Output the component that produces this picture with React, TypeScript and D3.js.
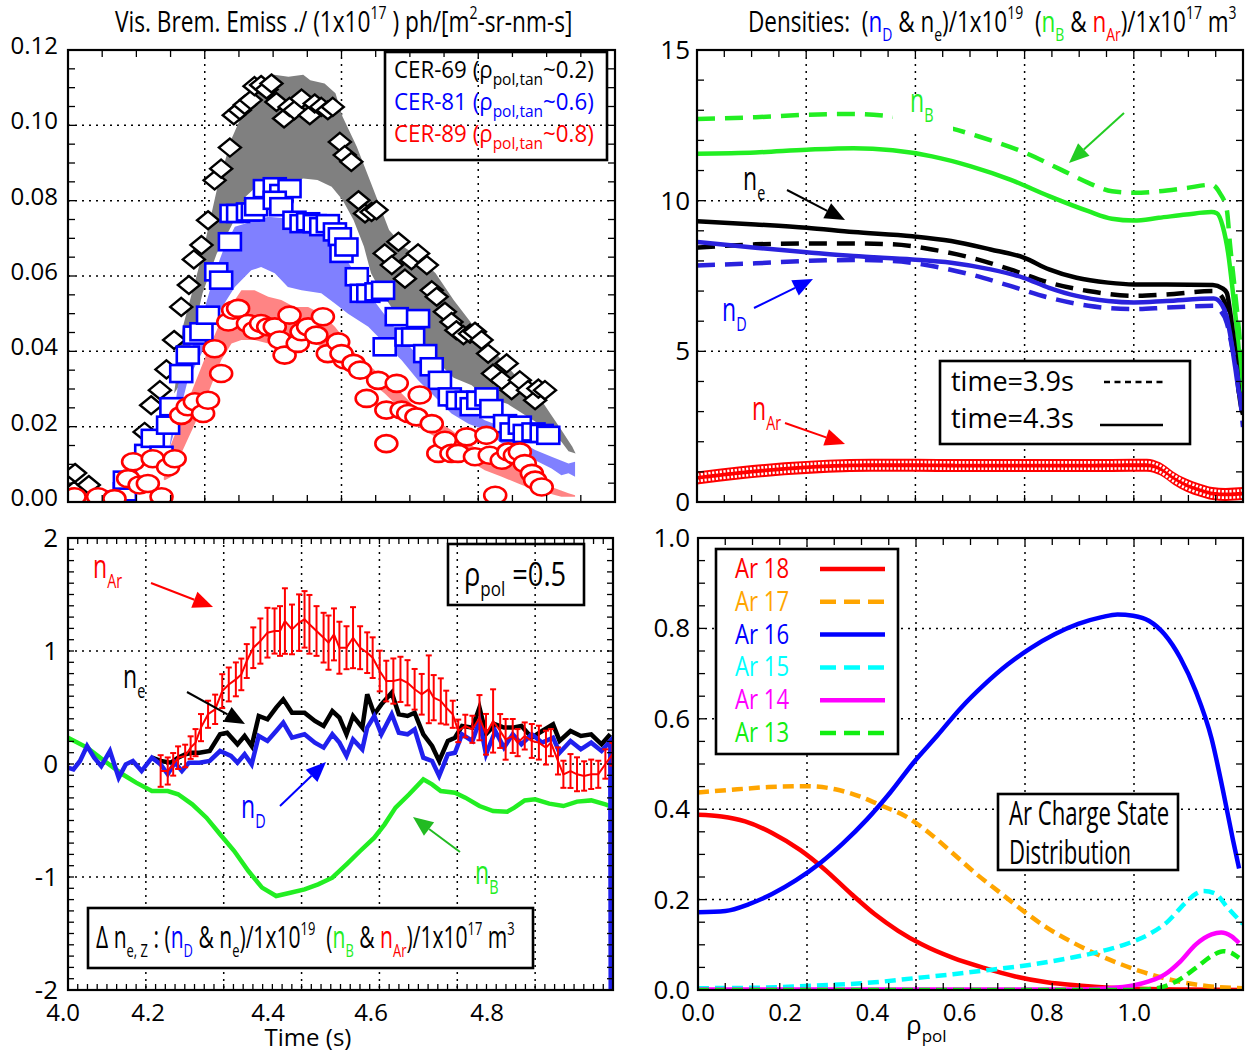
import React from "react";
import * as d3 from "d3";

type P = [number, number];
type E = [number, number, number];

// ================= TOP-LEFT : Vis. Brem. emissivity vs time =================
const cer69Points: P[] = [
  [4.011, 0.003], [4.013, 0.0077], [4.038, 0.0045], [4.14, 0.0186], [4.152, 0.0257], [4.168, 0.0297],
  [4.18, 0.0352], [4.194, 0.043], [4.207, 0.0518], [4.221, 0.0576], [4.23, 0.0644], [4.244, 0.0682],
  [4.256, 0.0748], [4.268, 0.0854], [4.28, 0.0885], [4.296, 0.0941], [4.303, 0.1027], [4.314, 0.104],
  [4.323, 0.1054], [4.334, 0.1067], [4.341, 0.1104], [4.353, 0.1107], [4.363, 0.1095], [4.372, 0.1111],
  [4.381, 0.1062], [4.395, 0.1018], [4.405, 0.1049], [4.414, 0.104], [4.427, 0.1071], [4.442, 0.1027],
  [4.451, 0.1058], [4.463, 0.1049], [4.475, 0.104], [4.484, 0.1049], [4.497, 0.0956], [4.506, 0.0921],
  [4.518, 0.0903], [4.531, 0.0801], [4.543, 0.0766], [4.555, 0.077], [4.564, 0.0775], [4.579, 0.066],
  [4.592, 0.0629], [4.604, 0.0691], [4.616, 0.0593], [4.628, 0.0642], [4.64, 0.066], [4.656, 0.0629],
  [4.665, 0.0562], [4.674, 0.0545], [4.689, 0.0505], [4.701, 0.0478], [4.71, 0.0456], [4.723, 0.0443],
  [4.735, 0.0447], [4.744, 0.0452], [4.756, 0.043], [4.768, 0.0394], [4.777, 0.0341], [4.793, 0.0323],
  [4.802, 0.0368], [4.811, 0.0297], [4.826, 0.0323], [4.841, 0.0297], [4.854, 0.027], [4.86, 0.0301],
  [4.872, 0.0297],
];
const cer81Points: P[] = [
  [4.061, 0.0005], [4.104, 0.0027], [4.104, 0.0058], [4.143, 0.0129], [4.155, 0.0169], [4.171, 0.0124],
  [4.183, 0.0204], [4.189, 0.0253], [4.207, 0.0341], [4.219, 0.039], [4.232, 0.0443], [4.244, 0.0452],
  [4.256, 0.0496], [4.271, 0.0611], [4.28, 0.0589], [4.296, 0.0691], [4.299, 0.0766], [4.311, 0.0766],
  [4.329, 0.077], [4.338, 0.077], [4.344, 0.0784], [4.36, 0.0832], [4.378, 0.0837], [4.39, 0.0819],
  [4.405, 0.0832], [4.378, 0.0801], [4.39, 0.0784], [4.414, 0.0748], [4.427, 0.0739], [4.439, 0.0744],
  [4.451, 0.0739], [4.463, 0.0731], [4.475, 0.0739], [4.488, 0.0717], [4.497, 0.0704], [4.5, 0.066],
  [4.509, 0.0677], [4.528, 0.0598], [4.537, 0.0554], [4.549, 0.0554], [4.564, 0.0558], [4.576, 0.0562],
  [4.601, 0.0492], [4.64, 0.0487], [4.579, 0.0412], [4.619, 0.0438], [4.631, 0.0438], [4.653, 0.0394],
  [4.665, 0.0359], [4.68, 0.0323], [4.698, 0.0279], [4.713, 0.027], [4.729, 0.027], [4.738, 0.0253],
  [4.75, 0.027], [4.765, 0.0279], [4.774, 0.0248], [4.799, 0.0208], [4.811, 0.0186], [4.826, 0.0204],
  [4.835, 0.0182], [4.851, 0.0186], [4.866, 0.0182], [4.878, 0.0177],
];
const cer89Points: P[] = [
  [4.012, 0.0014], [4.055, 0.0014], [4.085, 0.0009], [4.171, 0.0014], [4.11, 0.0062], [4.119, 0.0107],
  [4.131, 0.0045], [4.146, 0.0049], [4.155, 0.0115], [4.183, 0.0093], [4.195, 0.0115], [4.207, 0.023],
  [4.219, 0.0253], [4.232, 0.0266], [4.247, 0.0235], [4.256, 0.027], [4.28, 0.0341], [4.268, 0.0407],
  [4.293, 0.0478], [4.302, 0.0509], [4.311, 0.0514], [4.329, 0.0474], [4.341, 0.0456], [4.353, 0.0474],
  [4.366, 0.0465], [4.378, 0.0465], [4.387, 0.043], [4.396, 0.039], [4.405, 0.0496], [4.42, 0.0421],
  [4.427, 0.0452], [4.439, 0.0465], [4.454, 0.0443], [4.466, 0.0492], [4.475, 0.0394], [4.494, 0.0425],
  [4.506, 0.0377], [4.5, 0.0394], [4.522, 0.0368], [4.534, 0.035], [4.546, 0.0275], [4.567, 0.0323],
  [4.582, 0.0244], [4.601, 0.0315], [4.61, 0.0244], [4.622, 0.0235], [4.643, 0.0284], [4.637, 0.0226],
  [4.665, 0.0208], [4.582, 0.0155], [4.677, 0.0129], [4.689, 0.0164], [4.701, 0.0129], [4.713, 0.0129],
  [4.729, 0.0173], [4.744, 0.012], [4.765, 0.0177], [4.771, 0.0124], [4.781, 0.0018], [4.793, 0.0111],
  [4.805, 0.0133], [4.817, 0.0124], [4.826, 0.0133], [4.835, 0.0102], [4.848, 0.0076], [4.854, 0.0058],
  [4.866, 0.004],
];
const cer69BandUpper: P[] = [
  [4.194, 0.0288], [4.21, 0.0465], [4.246, 0.066], [4.272, 0.0828], [4.298, 0.0961], [4.325, 0.105],
  [4.351, 0.1111], [4.377, 0.1134], [4.403, 0.1129], [4.43, 0.1134], [4.443, 0.112], [4.469, 0.1111],
  [4.489, 0.1085], [4.502, 0.1023], [4.528, 0.0943], [4.554, 0.0846], [4.587, 0.0722], [4.613, 0.0678],
  [4.64, 0.0651], [4.672, 0.0607], [4.705, 0.0536], [4.738, 0.0474], [4.771, 0.0412], [4.804, 0.0359],
  [4.836, 0.0306], [4.869, 0.0262], [4.902, 0.0191], [4.922, 0.0147], [4.928, 0.0129],
];
const cer69BandLower: P[] = [
  [4.194, 0.0288], [4.21, 0.0324], [4.226, 0.043], [4.246, 0.0554], [4.272, 0.066], [4.298, 0.0731],
  [4.325, 0.0811], [4.351, 0.0846], [4.377, 0.0837], [4.403, 0.0846], [4.43, 0.0859], [4.456, 0.0855],
  [4.482, 0.0837], [4.502, 0.0802], [4.522, 0.0749], [4.541, 0.0678], [4.554, 0.0607], [4.574, 0.0554],
  [4.607, 0.0483], [4.64, 0.043], [4.672, 0.0377], [4.705, 0.033], [4.738, 0.031], [4.762, 0.028],
  [4.804, 0.026], [4.836, 0.023], [4.869, 0.02], [4.902, 0.016], [4.915, 0.0135], [4.928, 0.0129],
];
const cer81BandUpper: P[] = [
  [4.185, 0.014], [4.201, 0.031], [4.219, 0.0376], [4.244, 0.0483], [4.268, 0.0607], [4.286, 0.0677],
  [4.305, 0.0731], [4.335, 0.0744], [4.366, 0.0757], [4.396, 0.0753], [4.427, 0.0731], [4.457, 0.0722],
  [4.488, 0.069], [4.549, 0.0554], [4.61, 0.0438], [4.646, 0.0376], [4.671, 0.0323], [4.701, 0.0279],
  [4.732, 0.0244], [4.762, 0.0217], [4.793, 0.02], [4.823, 0.0164], [4.854, 0.0138], [4.884, 0.012],
  [4.915, 0.0102], [4.927, 0.0107],
];
const cer81BandLower: P[] = [
  [4.185, 0.014], [4.201, 0.022], [4.219, 0.0323], [4.244, 0.0394], [4.274, 0.05], [4.305, 0.0571],
  [4.335, 0.0615], [4.353, 0.0624], [4.378, 0.0607], [4.402, 0.0571], [4.427, 0.0562], [4.463, 0.0554],
  [4.488, 0.0527], [4.512, 0.05], [4.549, 0.0465], [4.579, 0.0421], [4.61, 0.0376], [4.64, 0.0323],
  [4.671, 0.0279], [4.701, 0.0235], [4.732, 0.0208], [4.762, 0.0191], [4.793, 0.0155], [4.823, 0.0129],
  [4.854, 0.0111], [4.884, 0.0089], [4.902, 0.0071], [4.915, 0.0076], [4.927, 0.0067],
];
const cer89BandUpper: P[] = [
  [4.175, 0.006], [4.177, 0.0111], [4.201, 0.02], [4.232, 0.0315], [4.256, 0.0403], [4.28, 0.0483],
  [4.305, 0.0536], [4.317, 0.0562], [4.341, 0.0562], [4.366, 0.0545], [4.39, 0.0536], [4.414, 0.0518],
  [4.439, 0.0518], [4.463, 0.05], [4.488, 0.0465], [4.512, 0.0421], [4.525, 0.0394], [4.561, 0.035],
  [4.598, 0.0306], [4.634, 0.0253], [4.671, 0.0217], [4.701, 0.0191], [4.732, 0.0155], [4.762, 0.0129],
  [4.793, 0.0111], [4.823, 0.0093], [4.854, 0.0067], [4.884, 0.004], [4.915, 0.0023], [4.927, 0.0018],
];
const cer89BandLower: P[] = [
  [4.175, 0.006], [4.177, 0.0058], [4.189, 0.0067], [4.207, 0.0129], [4.232, 0.0208], [4.256, 0.0288],
  [4.28, 0.0376], [4.299, 0.0421], [4.317, 0.043], [4.341, 0.043], [4.366, 0.0421], [4.39, 0.0412],
  [4.414, 0.0438], [4.439, 0.043], [4.463, 0.0412], [4.488, 0.0385], [4.518, 0.0359], [4.549, 0.0323],
  [4.579, 0.0288], [4.61, 0.0244], [4.64, 0.02], [4.671, 0.0173], [4.701, 0.0138], [4.732, 0.0111],
  [4.762, 0.0084], [4.793, 0.0067], [4.823, 0.0049], [4.854, 0.0031], [4.878, 0.0023], [4.902, 0.0014],
  [4.927, 0.0014],
];
const emissYTicks = [0, 0.02, 0.04, 0.06, 0.08, 0.1, 0.12];
const cerNames = ["CER-69", "CER-81", "CER-89"];
const cerRho = ["~0.2)", "~0.6)", "~0.8)"];

// ================= TOP-RIGHT : density profiles vs rho_pol =================
const nB39: P[] = [
  [0, 12.71], [0.134, 12.77], [0.251, 12.85], [0.358, 12.88], [0.448, 12.79], [0.582, 12.4], [0.645, 12.13],
  [0.753, 11.58], [0.833, 11.03], [0.896, 10.59], [0.95, 10.31], [1.0, 10.26], [1.057, 10.31], [1.12, 10.42],
  [1.178, 10.53], [1.197, 10.25], [1.213, 9.69], [1.22, 8.59], [1.232, 6.94], [1.243, 5.28], [1.25, 3.62],
];
const nB43: P[] = [
  [0, 11.56], [0.134, 11.6], [0.251, 11.69], [0.358, 11.74], [0.448, 11.67], [0.538, 11.47], [0.627, 11.14],
  [0.717, 10.7], [0.806, 10.15], [0.896, 9.65], [0.95, 9.4], [1.0, 9.34], [1.057, 9.43], [1.12, 9.54],
  [1.178, 9.62], [1.19, 9.58], [1.204, 9.13], [1.216, 8.26], [1.227, 6.94], [1.239, 5.28], [1.248, 3.62],
];
const ne43: P[] = [
  [0, 9.32], [0.134, 9.21], [0.251, 9.1], [0.358, 8.96], [0.493, 8.82], [0.582, 8.66], [0.672, 8.38],
  [0.748, 8.11], [0.806, 7.72], [0.869, 7.44], [0.941, 7.28], [1.0, 7.22], [1.075, 7.22], [1.181, 7.2],
  [1.202, 7.1], [1.213, 6.94], [1.22, 6.37], [1.227, 5.61], [1.236, 4.48], [1.241, 3.62], [1.25, 2.9],
];
const ne39: P[] = [
  [0, 8.44], [0.134, 8.55], [0.251, 8.58], [0.358, 8.58], [0.448, 8.55], [0.538, 8.38], [0.627, 8.11],
  [0.717, 7.72], [0.806, 7.28], [0.896, 7.0], [1.0, 6.84], [1.075, 6.89], [1.183, 7.0], [1.202, 6.8],
  [1.213, 6.37], [1.22, 5.81], [1.232, 4.71], [1.241, 3.62], [1.25, 3.0],
];
const nD43: P[] = [
  [0, 8.63], [0.134, 8.44], [0.251, 8.29], [0.358, 8.16], [0.493, 8.05], [0.582, 7.94], [0.672, 7.72],
  [0.748, 7.44], [0.806, 7.11], [0.869, 6.84], [0.941, 6.67], [1.0, 6.62], [1.075, 6.67], [1.183, 6.75],
  [1.202, 6.54], [1.213, 6.14], [1.22, 5.61], [1.232, 4.48], [1.241, 3.62], [1.25, 3.29],
];
const nD39: P[] = [
  [0, 7.85], [0.134, 7.92], [0.251, 8.0], [0.358, 8.03], [0.448, 8.0], [0.538, 7.83], [0.627, 7.55],
  [0.717, 7.17], [0.806, 6.78], [0.896, 6.51], [1.0, 6.4], [1.075, 6.45], [1.183, 6.51], [1.197, 6.37],
  [1.213, 5.94], [1.225, 5.14], [1.239, 4.05], [1.247, 2.95], [1.25, 2.49],
];
const nArProfile: P[] = [
  [0, 0.8], [0.1, 0.97], [0.2, 1.1], [0.3, 1.19], [0.4, 1.22], [0.5, 1.22], [0.6, 1.21], [0.7, 1.21],
  [0.8, 1.21], [0.9, 1.21], [1.0, 1.22], [1.03, 1.22], [1.06, 1.1], [1.09, 0.8], [1.12, 0.56], [1.15, 0.4],
  [1.18, 0.28], [1.21, 0.25], [1.25, 0.28],
];
const nArHalfWidth = 0.216;
const densYTicks = [0, 5, 10, 15];
const timeLegend = ["time=3.9s", "time=4.3s"];

// ================= BOTTOM-LEFT : density changes at rho_pol = 0.5 =================
const dnB: P[] = [
  [4.0, 0.233], [4.035, 0.145], [4.067, 0.027], [4.1, -0.091], [4.125, -0.165], [4.154, -0.239], [4.183, -0.239],
  [4.202, -0.268], [4.228, -0.357], [4.254, -0.475], [4.279, -0.622], [4.305, -0.77], [4.331, -0.947],
  [4.356, -1.094], [4.382, -1.168], [4.408, -1.139], [4.434, -1.109], [4.459, -1.065], [4.485, -1.006],
  [4.511, -0.888], [4.536, -0.77], [4.562, -0.652], [4.581, -0.534], [4.601, -0.386], [4.626, -0.268],
  [4.652, -0.136], [4.668, -0.18], [4.684, -0.239], [4.71, -0.254], [4.729, -0.298], [4.755, -0.372],
  [4.78, -0.416], [4.806, -0.422], [4.819, -0.386], [4.838, -0.322], [4.857, -0.313], [4.883, -0.351],
  [4.909, -0.372], [4.934, -0.333], [4.96, -0.322], [4.986, -0.357], [5.0, -0.381],
];
const dnD: P[] = [
  [4.0, -0.032], [4.01, -0.047], [4.022, 0.027], [4.035, 0.159], [4.048, 0.056], [4.061, -0.018], [4.077, 0.115],
  [4.093, -0.121], [4.106, -0.003], [4.119, 0.027], [4.135, -0.062], [4.154, 0.056], [4.17, -0.003],
  [4.183, -0.091], [4.196, 0.012], [4.209, -0.062], [4.222, 0.012], [4.241, 0.012], [4.26, 0.027], [4.279, 0.115],
  [4.299, 0.071], [4.311, 0.012], [4.324, 0.086], [4.337, -0.003], [4.35, 0.248], [4.366, 0.204], [4.382, 0.292],
  [4.395, 0.366], [4.411, 0.233], [4.434, 0.263], [4.453, 0.189], [4.469, 0.145], [4.485, 0.263], [4.498, 0.189],
  [4.511, 0.071], [4.523, 0.218], [4.54, 0.13], [4.549, 0.322], [4.562, 0.425], [4.575, 0.263], [4.594, 0.44],
  [4.607, 0.277], [4.623, 0.263], [4.636, 0.307], [4.652, 0.056], [4.668, 0.027], [4.681, -0.106], [4.697, 0.086],
  [4.71, 0.1], [4.723, 0.263], [4.742, 0.204], [4.755, 0.381], [4.767, 0.086], [4.784, 0.292], [4.8, 0.145],
  [4.816, 0.263], [4.832, 0.174], [4.851, 0.263], [4.87, 0.189], [4.89, 0.233], [4.902, 0.1], [4.922, 0.204],
  [4.941, 0.13], [4.96, 0.189], [4.979, 0.115], [4.995, 0.204], [4.996, -2.5],
];
const dne: P[] = [
  [4.154, 0.056], [4.17, 0.027], [4.189, 0.012], [4.202, 0.056], [4.215, 0.086], [4.228, 0.1], [4.241, 0.1],
  [4.26, 0.115], [4.279, 0.263], [4.292, 0.277], [4.311, 0.174], [4.324, 0.248], [4.337, 0.159], [4.35, 0.425],
  [4.366, 0.395], [4.382, 0.499], [4.395, 0.572], [4.411, 0.454], [4.434, 0.454], [4.453, 0.381], [4.469, 0.336],
  [4.485, 0.469], [4.498, 0.41], [4.511, 0.263], [4.523, 0.425], [4.54, 0.322], [4.549, 0.617], [4.562, 0.44],
  [4.575, 0.528], [4.594, 0.631], [4.607, 0.44], [4.623, 0.425], [4.636, 0.454], [4.652, 0.263], [4.668, 0.159],
  [4.681, 0.027], [4.697, 0.204], [4.71, 0.233], [4.723, 0.336], [4.742, 0.322], [4.755, 0.499], [4.767, 0.263],
  [4.784, 0.351], [4.8, 0.322], [4.816, 0.322], [4.832, 0.336], [4.851, 0.233], [4.87, 0.292], [4.89, 0.351],
  [4.902, 0.204], [4.922, 0.292], [4.941, 0.248], [4.96, 0.263], [4.979, 0.174], [4.995, 0.263],
];
// [time, value, half error]
const dnAr: E[] = [
  [4.17, -0.062, 0.14], [4.183, -0.062, 0.12], [4.193, -0.003, 0.1], [4.202, 0.056, 0.1], [4.215, 0.071, 0.1],
  [4.225, 0.145, 0.1], [4.234, 0.189, 0.12], [4.244, 0.322, 0.12], [4.257, 0.44, 0.12], [4.27, 0.484, 0.13],
  [4.283, 0.645, 0.15], [4.295, 0.704, 0.15], [4.308, 0.749, 0.15], [4.318, 0.793, 0.14], [4.328, 0.911, 0.15],
  [4.34, 1.029, 0.18], [4.353, 1.088, 0.2], [4.366, 1.162, 0.22], [4.379, 1.177, 0.2], [4.389, 1.177, 0.22],
  [4.398, 1.265, 0.29], [4.411, 1.191, 0.22], [4.424, 1.251, 0.25], [4.434, 1.28, 0.25], [4.443, 1.236, 0.26],
  [4.456, 1.177, 0.22], [4.469, 1.118, 0.22], [4.478, 1.074, 0.24], [4.488, 1.147, 0.23], [4.498, 1.029, 0.23],
  [4.511, 1.029, 0.19], [4.523, 1.118, 0.27], [4.536, 1.029, 0.19], [4.549, 0.985, 0.18], [4.559, 0.941, 0.18],
  [4.572, 0.823, 0.18], [4.584, 0.734, 0.18], [4.597, 0.734, 0.2], [4.61, 0.749, 0.2], [4.623, 0.719, 0.2],
  [4.636, 0.661, 0.18], [4.649, 0.617, 0.18], [4.662, 0.661, 0.3], [4.671, 0.587, 0.2], [4.684, 0.558, 0.2],
  [4.694, 0.499, 0.15], [4.706, 0.44, 0.12], [4.716, 0.293, 0.1], [4.729, 0.336, 0.1], [4.742, 0.307, 0.12],
  [4.755, 0.41, 0.2], [4.767, 0.263, 0.18], [4.78, 0.381, 0.28], [4.793, 0.292, 0.15], [4.803, 0.218, 0.18],
  [4.816, 0.248, 0.15], [4.825, 0.189, 0.12], [4.838, 0.248, 0.12], [4.851, 0.204, 0.15], [4.864, 0.189, 0.15],
  [4.877, 0.145, 0.15], [4.886, 0.189, 0.12], [4.899, 0.027, 0.12], [4.909, -0.091, 0.12], [4.922, -0.062, 0.15],
  [4.934, -0.091, 0.15], [4.947, -0.106, 0.13], [4.96, -0.091, 0.13], [4.973, -0.091, 0.12], [4.986, 0.0, 0.13],
  [4.999, 0.086, 0.1],
];
const deltaYTicks = [-2, -1, 0, 1, 2];
const timeTickLabels = ["4.0", "4.2", "4.4", "4.6", "4.8"];
const timeTickLabelAt = [3.991, 4.147, 4.367, 4.556, 4.769];

// ================= BOTTOM-RIGHT : Ar charge state distribution =================
const ar18: P[] = [
  [0, 0.388], [0.054, 0.384], [0.108, 0.373], [0.171, 0.347], [0.234, 0.31], [0.288, 0.269], [0.351, 0.213],
  [0.405, 0.168], [0.459, 0.131], [0.513, 0.101], [0.585, 0.071], [0.656, 0.049], [0.728, 0.03], [0.8, 0.017],
  [0.872, 0.01], [0.944, 0.005], [1.034, 0.002], [1.124, 0.001], [1.25, 0.0],
];
const ar17: P[] = [
  [0, 0.437], [0.09, 0.444], [0.162, 0.449], [0.252, 0.451], [0.315, 0.444], [0.369, 0.429], [0.423, 0.407],
  [0.477, 0.384], [0.531, 0.347], [0.585, 0.302], [0.638, 0.257], [0.692, 0.216], [0.746, 0.175], [0.8, 0.138],
  [0.854, 0.108], [0.908, 0.082], [0.962, 0.06], [1.016, 0.041], [1.07, 0.026], [1.124, 0.015], [1.187, 0.007],
  [1.25, 0.004],
];
const ar16: P[] = [
  [0, 0.172], [0.063, 0.175], [0.117, 0.19], [0.171, 0.213], [0.225, 0.243], [0.279, 0.28], [0.333, 0.325],
  [0.387, 0.377], [0.441, 0.437], [0.495, 0.504], [0.549, 0.563], [0.602, 0.623], [0.656, 0.675], [0.71, 0.72],
  [0.764, 0.757], [0.818, 0.787], [0.872, 0.81], [0.926, 0.825], [0.962, 0.831], [0.998, 0.828], [1.034, 0.817],
  [1.07, 0.787], [1.106, 0.735], [1.142, 0.66], [1.178, 0.556], [1.205, 0.437], [1.227, 0.332], [1.241, 0.269],
];
const ar15: P[] = [
  [0, 0.004], [0.135, 0.005], [0.27, 0.01], [0.405, 0.017], [0.495, 0.026], [0.585, 0.035], [0.674, 0.045],
  [0.764, 0.056], [0.854, 0.071], [0.926, 0.086], [0.989, 0.104], [1.034, 0.123], [1.079, 0.153], [1.115, 0.19],
  [1.142, 0.213], [1.16, 0.219], [1.187, 0.213], [1.214, 0.183], [1.25, 0.146],
];
const ar14: P[] = [
  [0, 0.001], [0.5, 0.001], [0.854, 0.001], [0.944, 0.004], [0.998, 0.01], [1.034, 0.019], [1.07, 0.034],
  [1.106, 0.063], [1.142, 0.101], [1.178, 0.123], [1.2, 0.127], [1.223, 0.119], [1.241, 0.104],
];
const ar13: P[] = [
  [0, 0.0], [0.5, 0.0], [0.989, 0.0], [1.052, 0.004], [1.097, 0.019], [1.142, 0.049], [1.178, 0.075],
  [1.205, 0.086], [1.223, 0.082], [1.241, 0.071],
];
const chargeStateNames = ["Ar 18", "Ar 17", "Ar 16", "Ar 15", "Ar 14", "Ar 13"];
const fracYTicks = [0, 0.2, 0.4, 0.6, 0.8, 1.0];
const rhoTickLabels = [0, 0.2, 0.4, 0.6, 0.8, 1.0];

// ================= STYLE =================
const FONT = "'Open Sans', 'Noto Sans', 'DejaVu Sans', sans-serif";
const C_BLUE = "#0000ff";
const C_RED = "#ff0000";
const C_GREEN = "#22ee22";
const C_LBLUE = "#2a22dd";

type Seg = { t: string; c?: string; sub?: boolean; sup?: boolean };

function Rich({ x, y, size, segs, sx = 1, anchor = "start", subSize, color = "#000" }: any) {
  const ss = subSize || size * 0.62;
  let shift = 0;
  const els = (segs as Seg[]).map((s, i) => {
    const target = s.sub ? size * 0.3 : s.sup ? -size * 0.42 : 0;
    const dy = target - shift;
    shift = target;
    return (
      <tspan key={i} dy={dy} fill={s.c || color} fontSize={s.sub || s.sup ? ss : size}>
        {s.t}
      </tspan>
    );
  });
  return (
    <text
      transform={`translate(${x},${y}) scale(${sx},1)`}
      textAnchor={anchor}
      fontFamily={FONT}
      fontSize={size}
      style={{ whiteSpace: "pre" }}
    >
      {els}
    </text>
  );
}

function Arrow({ x1, y1, x2, y2, color, head = 20, hw = 8.5, sw = 2 }: any) {
  const a = Math.atan2(y2 - y1, x2 - x1);
  const bx = x2 - head * Math.cos(a);
  const by = y2 - head * Math.sin(a);
  const px = -Math.sin(a) * hw;
  const py = Math.cos(a) * hw;
  return (
    <g>
      <line x1={x1} y1={y1} x2={bx} y2={by} stroke={color} strokeWidth={sw} />
      <path d={`M${x2},${y2}L${bx + px},${by + py}L${bx - px},${by - py}Z`} fill={color} />
    </g>
  );
}

function Grid({ xs, ys, xGrid, yGrid }: any) {
  const [l, r] = xs.range();
  const [b, t] = ys.range();
  return (
    <g stroke="#000" strokeWidth={1.5} strokeDasharray="2,5">
      {xGrid.map((v: number, i: number) => (
        <line key={"x" + i} x1={xs(v)} x2={xs(v)} y1={t} y2={b} />
      ))}
      {yGrid.map((v: number, i: number) => (
        <line key={"y" + i} x1={l} x2={r} y1={ys(v)} y2={ys(v)} />
      ))}
    </g>
  );
}

function Frame({ xs, ys, xMinor, yMinor, tl = 7 }: any) {
  const [l, r] = xs.range();
  const [b, t] = ys.range();
  return (
    <g stroke="#000" strokeWidth={1.3}>
      {xMinor.map((v: number, i: number) => (
        <g key={"xt" + i}>
          <line x1={xs(v)} x2={xs(v)} y1={b} y2={b - tl} />
          <line x1={xs(v)} x2={xs(v)} y1={t} y2={t + tl} />
        </g>
      ))}
      {yMinor.map((v: number, i: number) => (
        <g key={"yt" + i}>
          <line x1={l} x2={l + tl} y1={ys(v)} y2={ys(v)} />
          <line x1={r} x2={r - tl} y1={ys(v)} y2={ys(v)} />
        </g>
      ))}
      <rect x={l} y={t} width={r - l} height={b - t} fill="none" strokeWidth={2.2} />
    </g>
  );
}

export default function App() {
  // ---------- scales ----------
  const xTL = d3.scaleLinear().domain([4.0, 5.0]).range([68, 615]);
  const yTL = d3.scaleLinear().domain([0, 0.12]).range([502, 50]);
  const xTR = d3.scaleLinear().domain([0, 1.25]).range([697, 1243]);
  const yTR = d3.scaleLinear().domain([0, 15]).range([502, 50]);
  const xBL = d3.scaleLinear().domain([4.0, 5.0]).range([68, 613]);
  const yBL = d3.scaleLinear().domain([-2, 2]).range([990, 538]);
  const xBR = d3.scaleLinear().domain([0, 1.25]).range([698, 1243]);
  const yBR = d3.scaleLinear().domain([0, 1]).range([990, 538]);

  const band = (xs: any, ys: any, up: P[], lo: P[]) =>
    (d3.line().x((d: any) => xs(d[0])).y((d: any) => ys(d[1]))([...up, ...lo.slice().reverse()] as any) || "") + "Z";

  const lineTR = d3.line<P>().x((d) => xTR(d[0])).y((d) => yTR(d[1])).curve(d3.curveMonotoneX);
  const lineBR = d3.line<P>().x((d) => xBR(d[0])).y((d) => yBR(d[1])).curve(d3.curveMonotoneX);
  const lineBL = d3.line<P>().x((d) => xBL(d[0])).y((d) => yBL(d[1]));
  const arArea = d3
    .area<P>()
    .x((d) => xTR(d[0]))
    .y0((d) => yTR(d[1] - nArHalfWidth))
    .y1((d) => yTR(d[1] + nArHalfWidth))
    .curve(d3.curveMonotoneX);

  const diamond = "M0,-9L11,0L0,9L-11,0Z";

  const tlXMinor = d3.range(0, 17).map((k) => 4 + k / 16);
  const tlYMinor = d3.range(0, 25).map((k) => k * 0.005);
  const rhoMinor = d3.range(0, 21).map((k) => k * 0.0625);
  const trYMinor = d3.range(0, 16);
  const blXMinor = d3.range(0, 57).map((k) => 4 + k / 56);
  const blYMinor = d3.range(0, 41).map((k) => -2 + k * 0.1);
  const brYMinor = d3.range(0, 21).map((k) => k * 0.05);

  const brStyles = [
    { c: C_RED, dash: "none", d: ar18 },
    { c: "#ffa500", dash: "11,6", d: ar17 },
    { c: C_BLUE, dash: "none", d: ar16 },
    { c: "#00ffff", dash: "11,6", d: ar15 },
    { c: "#ff00ff", dash: "none", d: ar14 },
    { c: "#11ee11", dash: "11,6", d: ar13 },
  ];

  const tickFont = { fontFamily: FONT, fontSize: 24 };

  return (
    <svg
      width={1252}
      height={1053}
      style={{ position: "absolute", left: 0, top: 0, background: "#fff" }}
      fontFamily={FONT}
    >
      <defs>
        <clipPath id="cTL"><rect x={68} y={50} width={547} height={452} /></clipPath>
        <clipPath id="cTR"><rect x={697} y={50} width={546} height={452} /></clipPath>
        <clipPath id="cBL"><rect x={68} y={538} width={545} height={452} /></clipPath>
        <clipPath id="cBR"><rect x={698} y={538} width={545} height={452} /></clipPath>
      </defs>
      <rect x={0} y={0} width={1252} height={1053} fill="#fff" />

      {/* ================= TOP LEFT ================= */}
      <Rich
        x={115}
        y={32}
        size={30}
        sx={0.755}
        segs={[
          { t: "Vis. Brem. Emiss ./ (1x10" },
          { t: "17", sup: true },
          { t: " ) ph/[m" },
          { t: "2", sup: true },
          { t: "-sr-nm-s]" },
        ]}
      />
      <Grid xs={xTL} ys={yTL} xGrid={[4.25, 4.5, 4.75]} yGrid={[0.02, 0.04, 0.06, 0.08, 0.1]} />
      <g clipPath="url(#cTL)">
        <path d={band(xTL, yTL, cer69BandUpper, cer69BandLower)} fill="#808080" />
        <path d={band(xTL, yTL, cer81BandUpper, cer81BandLower)} fill="#8080ff" />
        <path d={band(xTL, yTL, cer89BandUpper, cer89BandLower)} fill="#ff8484" />
        {cer69Points.map((d, i) => (
          <path key={"dm" + i} d={diamond} transform={`translate(${xTL(d[0])},${yTL(d[1])})`} fill="#fff" stroke="#000" strokeWidth={2.4} />
        ))}
        {cer81Points.map((d, i) => (
          <rect key={"sq" + i} x={xTL(d[0]) - 11} y={yTL(d[1]) - 8.5} width={22} height={17} fill="#fff" stroke={C_BLUE} strokeWidth={2.6} />
        ))}
        {cer89Points.map((d, i) => (
          <ellipse key={"ci" + i} cx={xTL(d[0])} cy={yTL(d[1])} rx={11} ry={8.5} fill="#fff" stroke={C_RED} strokeWidth={2.6} />
        ))}
      </g>
      <Frame xs={xTL} ys={yTL} xMinor={tlXMinor} yMinor={tlYMinor} />
      {emissYTicks.map((v, i) => (
        <text key={"tly" + i} x={58} y={yTL(v) + 4} textAnchor="end" {...tickFont}>
          {d3.format(".2f")(v)}
        </text>
      ))}
      <rect x={385} y={52} width={222} height={108} fill="none" stroke="#000" strokeWidth={2.6} />
      {cerNames.map((n, i) => {
        const col = ["#000", C_BLUE, C_RED][i];
        return (
          <Rich
            key={"lg" + i}
            x={394}
            y={78 + i * 32}
            size={23}
            subSize={16}
            color={col}
            sx={0.97}
            segs={[{ t: n + " (\u03c1" }, { t: "pol,tan", sub: true }, { t: cerRho[i] }]}
          />
        );
      })}

      {/* ================= TOP RIGHT ================= */}
      <Rich
        x={748}
        y={32}
        size={30}
        sx={0.75}
        segs={[
          { t: "Densities:  (" },
          { t: "n", c: C_BLUE },
          { t: "D", sub: true, c: C_BLUE },
          { t: " & n" },
          { t: "e", sub: true },
          { t: ")/1x10" },
          { t: "19", sup: true },
          { t: "  (" },
          { t: "n", c: C_GREEN },
          { t: "B", sub: true, c: C_GREEN },
          { t: " & " },
          { t: "n", c: C_RED },
          { t: "Ar", sub: true, c: C_RED },
          { t: ")/1x10" },
          { t: "17", sup: true },
          { t: " m" },
          { t: "3", sup: true },
        ]}
      />
      <Grid xs={xTR} ys={yTR} xGrid={[0.25, 0.5, 0.75, 1.0]} yGrid={[5, 10]} />
      <g clipPath="url(#cTR)" fill="none" strokeWidth={4.5}>
        <path d={lineTR(nB39) || ""} stroke={C_GREEN} strokeDasharray="18,10" />
        <path d={lineTR(nB43) || ""} stroke={C_GREEN} />
        <path d={lineTR(ne39) || ""} stroke="#000" strokeDasharray="18,10" />
        <path d={lineTR(ne43) || ""} stroke="#000" />
        <path d={lineTR(nD39) || ""} stroke={C_LBLUE} strokeDasharray="18,10" />
        <path d={lineTR(nD43) || ""} stroke={C_LBLUE} />
        <path d={arArea(nArProfile) || ""} fill={C_RED} stroke="none" />
        <path d={lineTR(nArProfile) || ""} transform="translate(0,-3.2)" stroke="#fff" strokeWidth={2.6} strokeDasharray="2.2,1.6" />
        <path d={lineTR(nArProfile) || ""} transform="translate(0,3.2)" stroke="#fff" strokeWidth={2.6} strokeDasharray="2.2,1.6" />
      </g>
      <Frame xs={xTR} ys={yTR} xMinor={rhoMinor} yMinor={trYMinor} />
      {densYTicks.map((v, i) => (
        <text key={"try" + i} x={690} y={yTR(v) + 9} textAnchor="end" {...tickFont} fontSize={26}>
          {v}
        </text>
      ))}
      <rect x={893} y={96} width={60} height={36} fill="#fff" />
      <Rich x={910} y={112} size={32} sx={0.72} subSize={20} color={C_GREEN} segs={[{ t: "n" }, { t: "B", sub: true }]} />
      <Arrow x1={1124} y1={113} x2={1069} y2={163} color="#22cc22" />
      <Rich x={743} y={190} size={32} sx={0.72} subSize={20} segs={[{ t: "n" }, { t: "e", sub: true }]} />
      <Arrow x1={787} y1={190} x2={845} y2={220} color="#000" />
      <Rich x={722} y={321} size={32} sx={0.72} subSize={20} color={C_BLUE} segs={[{ t: "n" }, { t: "D", sub: true }]} />
      <Arrow x1={754} y1={308} x2={813} y2={279} color={C_BLUE} />
      <Rich x={752} y={420} size={32} sx={0.72} subSize={20} color={C_RED} segs={[{ t: "n" }, { t: "Ar", sub: true }]} />
      <Arrow x1={785} y1={423} x2={845} y2={444} color={C_RED} />
      <rect x={940} y={361} width={250} height={83} fill="#fff" stroke="#000" strokeWidth={2.6} />
      <text x={951} y={391} fontSize={27} fontFamily={FONT}>{timeLegend[0]}</text>
      <text x={951} y={428} fontSize={27} fontFamily={FONT}>{timeLegend[1]}</text>
      <line x1={1104} x2={1165} y1={382} y2={382} stroke="#000" strokeWidth={2.5} strokeDasharray="6,4.5" />
      <line x1={1100} x2={1163} y1={425} y2={425} stroke="#000" strokeWidth={2.5} />

      {/* ================= BOTTOM LEFT ================= */}
      <Grid xs={xBL} ys={yBL} xGrid={d3.range(1, 7).map((k) => 4 + k / 7)} yGrid={[-1, 0, 1]} />
      <g clipPath="url(#cBL)" fill="none">
        <path d={lineBL(dnB) || ""} stroke={C_GREEN} strokeWidth={4.5} />
        <path d={lineBL(dne) || ""} stroke="#000" strokeWidth={4.5} />
        <path d={lineBL(dnD) || ""} stroke="#2020ee" strokeWidth={4.5} />
        <path d={lineBL(dnAr.map((d) => [d[0], d[1]] as P)) || ""} stroke={C_RED} strokeWidth={2} />
        {dnAr.map((d, i) => {
          const x = xBL(d[0]);
          return (
            <g key={"eb" + i} stroke={C_RED} strokeWidth={2}>
              <line x1={x} x2={x} y1={yBL(d[1] - d[2])} y2={yBL(d[1] + d[2])} />
              <line x1={x - 3} x2={x + 3} y1={yBL(d[1] - d[2])} y2={yBL(d[1] - d[2])} />
              <line x1={x - 3} x2={x + 3} y1={yBL(d[1] + d[2])} y2={yBL(d[1] + d[2])} />
            </g>
          );
        })}
      </g>
      <Frame xs={xBL} ys={yBL} xMinor={blXMinor} yMinor={blYMinor} tl={6} />
      {deltaYTicks.map((v, i) => (
        <text key={"bly" + i} x={58} y={yBL(v) + 9} textAnchor="end" {...tickFont} fontSize={26}>
          {v}
        </text>
      ))}
      {timeTickLabels.map((s, i) => (
        <text key={"blx" + i} x={xBL(timeTickLabelAt[i])} y={1021} textAnchor="middle" {...tickFont}>
          {s}
        </text>
      ))}
      <text x={308} y={1046} textAnchor="middle" {...tickFont}>Time (s)</text>
      <Rich x={93} y={578} size={32} sx={0.72} subSize={20} color={C_RED} segs={[{ t: "n" }, { t: "Ar", sub: true }]} />
      <Arrow x1={151} y1={583} x2={213} y2={607} color={C_RED} />
      <Rich x={123} y={688} size={32} sx={0.72} subSize={20} segs={[{ t: "n" }, { t: "e", sub: true }]} />
      <Arrow x1={187} y1={692} x2={245} y2={724} color="#000" />
      <Rich x={241} y={818} size={32} sx={0.72} subSize={20} color={C_BLUE} segs={[{ t: "n" }, { t: "D", sub: true }]} />
      <Arrow x1={280} y1={806} x2={326} y2={762} color={C_BLUE} />
      <Rich x={475} y={884} size={32} sx={0.72} subSize={20} color={C_GREEN} segs={[{ t: "n" }, { t: "B", sub: true }]} />
      <Arrow x1={460} y1={852} x2={413} y2={817} color="#22bb22" />
      <rect x={448} y={544} width={136} height={61} fill="none" stroke="#000" strokeWidth={2.6} />
      <Rich x={464} y={586} size={32} sx={0.85} subSize={20} segs={[{ t: "\u03c1" }, { t: "pol", sub: true }, { t: " =0.5" }]} />
      <rect x={88} y={908} width={445} height={60} fill="#fff" stroke="#000" strokeWidth={2.6} />
      <Rich
        x={96}
        y={948}
        size={31}
        sx={0.68}
        subSize={19}
        segs={[
          { t: "\u0394 n" },
          { t: "e, Z", sub: true },
          { t: " : (" },
          { t: "n", c: C_BLUE },
          { t: "D", sub: true, c: C_BLUE },
          { t: " & n" },
          { t: "e", sub: true },
          { t: ")/1x10" },
          { t: "19", sup: true },
          { t: "  (" },
          { t: "n", c: C_GREEN },
          { t: "B", sub: true, c: C_GREEN },
          { t: " & " },
          { t: "n", c: C_RED },
          { t: "Ar", sub: true, c: C_RED },
          { t: ")/1x10" },
          { t: "17", sup: true },
          { t: " m" },
          { t: "3", sup: true },
        ]}
      />

      {/* ================= BOTTOM RIGHT ================= */}
      <Grid xs={xBR} ys={yBR} xGrid={[0.25, 0.5, 0.75, 1.0]} yGrid={[0.2, 0.4, 0.6, 0.8]} />
      <g clipPath="url(#cBR)" fill="none" strokeWidth={4.5}>
        {brStyles.map((s, i) => (
          <path key={"br" + i} d={lineBR(s.d) || ""} stroke={s.c} strokeDasharray={s.dash} />
        ))}
      </g>
      <Frame xs={xBR} ys={yBR} xMinor={rhoMinor} yMinor={brYMinor} />
      {fracYTicks.map((v, i) => (
        <text key={"bry" + i} x={690} y={yBR(v) + 9} textAnchor="end" {...tickFont} fontSize={26}>
          {d3.format(".1f")(v)}
        </text>
      ))}
      {rhoTickLabels.map((v, i) => (
        <text key={"brx" + i} x={xBR(v)} y={1021} textAnchor="middle" {...tickFont}>
          {d3.format(".1f")(v)}
        </text>
      ))}
      <Rich x={906} y={1034} size={26} subSize={17} segs={[{ t: "\u03c1" }, { t: "pol", sub: true }]} />
      <rect x={716} y={549} width={182} height={205} fill="#fff" stroke="#000" strokeWidth={2.6} />
      {chargeStateNames.map((n, i) => (
        <g key={"lgbr" + i}>
          <text
            transform={`translate(735,${578 + i * 32.8}) scale(0.82,1)`}
            fontSize={27}
            fontFamily={FONT}
            fill={brStyles[i].c}
          >
            {n}
          </text>
          <line
            x1={820}
            x2={885}
            y1={569 + i * 32.8}
            y2={569 + i * 32.8}
            stroke={brStyles[i].c}
            strokeWidth={4.5}
            strokeDasharray={brStyles[i].dash === "none" ? "none" : "16,8"}
          />
        </g>
      ))}
      <rect x={998} y={794} width={180} height={76} fill="#fff" stroke="#000" strokeWidth={2.6} />
      <text transform="translate(1009,825) scale(0.67,1)" fontSize={33} fontFamily={FONT}>Ar Charge State</text>
      <text transform="translate(1009,864) scale(0.67,1)" fontSize={33} fontFamily={FONT}>Distribution</text>
    </svg>
  );
}
